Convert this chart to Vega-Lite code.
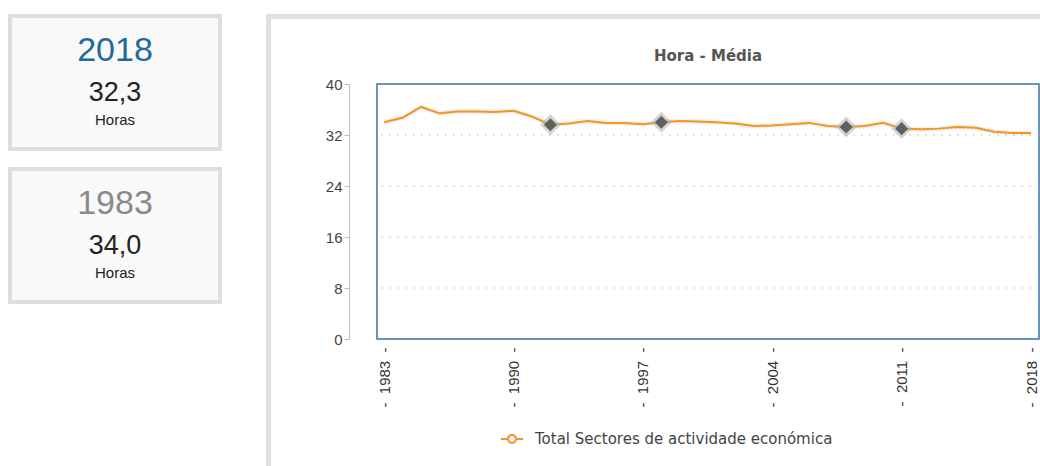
{
  "$schema": "https://vega.github.io/schema/vega-lite/v6.json",
  "background": "#ffffff",
  "padding": {"left": 8, "top": 14, "right": 0, "bottom": 0},
  "config": {
    "view": {"stroke": null},
    "concat": {"spacing": 0}
  },
  "datasets": {
    "serie": [
      {"ano": 1983, "horas": 34.0, "quebra": 0},
      {"ano": 1984, "horas": 34.7, "quebra": 0},
      {"ano": 1985, "horas": 36.4, "quebra": 0},
      {"ano": 1986, "horas": 35.4, "quebra": 0},
      {"ano": 1987, "horas": 35.7, "quebra": 0},
      {"ano": 1988, "horas": 35.7, "quebra": 0},
      {"ano": 1989, "horas": 35.6, "quebra": 0},
      {"ano": 1990, "horas": 35.8, "quebra": 0},
      {"ano": 1991, "horas": 34.9, "quebra": 0},
      {"ano": 1992, "horas": 33.6, "quebra": 1},
      {"ano": 1993, "horas": 33.8, "quebra": 0},
      {"ano": 1994, "horas": 34.2, "quebra": 0},
      {"ano": 1995, "horas": 33.9, "quebra": 0},
      {"ano": 1996, "horas": 33.9, "quebra": 0},
      {"ano": 1997, "horas": 33.7, "quebra": 0},
      {"ano": 1998, "horas": 34.0, "quebra": 1},
      {"ano": 1999, "horas": 34.2, "quebra": 0},
      {"ano": 2000, "horas": 34.1, "quebra": 0},
      {"ano": 2001, "horas": 34.0, "quebra": 0},
      {"ano": 2002, "horas": 33.8, "quebra": 0},
      {"ano": 2003, "horas": 33.4, "quebra": 0},
      {"ano": 2004, "horas": 33.5, "quebra": 0},
      {"ano": 2005, "horas": 33.7, "quebra": 0},
      {"ano": 2006, "horas": 33.9, "quebra": 0},
      {"ano": 2007, "horas": 33.4, "quebra": 0},
      {"ano": 2008, "horas": 33.25, "quebra": 1},
      {"ano": 2009, "horas": 33.4, "quebra": 0},
      {"ano": 2010, "horas": 33.9, "quebra": 0},
      {"ano": 2011, "horas": 33.0, "quebra": 1},
      {"ano": 2012, "horas": 32.9, "quebra": 0},
      {"ano": 2013, "horas": 33.0, "quebra": 0},
      {"ano": 2014, "horas": 33.25, "quebra": 0},
      {"ano": 2015, "horas": 33.15, "quebra": 0},
      {"ano": 2016, "horas": 32.5, "quebra": 0},
      {"ano": 2017, "horas": 32.3, "quebra": 0},
      {"ano": 2018, "horas": 32.3, "quebra": 0}
    ],
    "grelha": [{"v": 8}, {"v": 16}, {"v": 24}, {"v": 32}]
  },
  "bounds": "flush",
  "spacing": 258,
  "hconcat": [
    {
      "bounds": "flush",
      "spacing": 20,
      "vconcat": [
        {
          "width": 210,
          "height": 133,
          "view": {"stroke": "#dedede", "strokeWidth": 4, "fill": "#f9f9f9"},
          "data": {"values": [{"ano": "2018", "valor": "32,3", "unidade": "Horas"}]},
          "layer": [
            {"mark": {"type": "text", "font": "Liberation Sans", "fontSize": 34, "color": "#23689b", "baseline": "middle", "dy": -32}, "encoding": {"text": {"field": "ano"}}},
            {"mark": {"type": "text", "font": "Liberation Sans", "fontSize": 27, "color": "#222222", "baseline": "middle", "dy": 10}, "encoding": {"text": {"field": "valor"}}},
            {"mark": {"type": "text", "font": "Liberation Sans", "fontSize": 15, "color": "#222222", "baseline": "middle", "dy": 37}, "encoding": {"text": {"field": "unidade"}}}
          ]
        },
        {
          "width": 210,
          "height": 133,
          "view": {"stroke": "#dedede", "strokeWidth": 4, "fill": "#f9f9f9"},
          "data": {"values": [{"ano": "1983", "valor": "34,0", "unidade": "Horas"}]},
          "layer": [
            {"mark": {"type": "text", "font": "Liberation Sans", "fontSize": 34, "color": "#8a8a8a", "baseline": "middle", "dy": -32}, "encoding": {"text": {"field": "ano"}}},
            {"mark": {"type": "text", "font": "Liberation Sans", "fontSize": 27, "color": "#222222", "baseline": "middle", "dy": 10}, "encoding": {"text": {"field": "valor"}}},
            {"mark": {"type": "text", "font": "Liberation Sans", "fontSize": 15, "color": "#222222", "baseline": "middle", "dy": 37}, "encoding": {"text": {"field": "unidade"}}}
          ]
        }
      ]
    },
    {
      "bounds": "flush",
      "spacing": 0,
      "vconcat": [
        {
          "width": 800,
          "height": 1,
          "view": {"stroke": "#e0e0e0", "strokeWidth": 4},
          "data": {"values": []},
          "mark": "point",
          "encoding": {}
        },
        {
          "bounds": "flush",
          "spacing": 108,
          "hconcat": [
            {
              "width": 1,
              "height": 460,
              "view": {"stroke": "#e0e0e0", "strokeWidth": 4},
              "data": {"values": []},
              "mark": "point",
              "encoding": {}
            },
            {
              "bounds": "flush",
              "spacing": 47,
              "vconcat": [
                {
                  "width": 1,
                  "height": 0,
                  "data": {"values": []},
                  "mark": "point",
                  "encoding": {}
                },
                {
                  "width": 662,
                  "height": 255,
                  "view": {"stroke": "#3a72a8", "strokeWidth": 1.5},
                  "title": {"text": "Hora - Média", "font": "DejaVu Sans", "fontSize": 15, "fontWeight": "bold", "color": "#555555", "anchor": "middle", "offset": 13},
                  "layer": [
                    {
                      "data": {"name": "grelha"},
                      "mark": {"type": "rule", "stroke": "#c8c8c8", "strokeWidth": 1, "strokeDash": [2, 6]},
                      "encoding": {
                        "y": {"field": "v", "type": "quantitative", "title": null}
                      }
                    },
                    {
                      "data": {"name": "serie"},
                      "mark": {"type": "line", "stroke": "#000000", "strokeWidth": 5, "opacity": 0.06},
                      "encoding": {
                        "x": {"field": "ano", "type": "quantitative", "title": null},
                        "y": {"field": "horas", "type": "quantitative", "title": null}
                      }
                    },
                    {
                      "data": {"name": "serie"},
                      "mark": {"type": "line", "strokeWidth": 2},
                      "encoding": {
                        "x": {
                          "field": "ano", "type": "quantitative", "title": null,
                          "scale": {"domain": [1982.62, 2018.43], "nice": false, "zero": false},
                          "axis": {
                            "values": [1983, 1990, 1997, 2004, 2011, 2018],
                            "format": "d",
                            "labelExpr": "'-\u00a0\u00a0' + datum.label + '\u00a0\u00a0-'",
                            "labelAngle": -90,
                            "labelAlign": "right",
                            "labelBaseline": "middle",
                            "labelPadding": 8,
                            "labelFont": "Liberation Sans",
                            "labelFontSize": 15,
                            "labelColor": "#333333",
                            "ticks": false,
                            "domain": false,
                            "grid": false,
                            "title": null
                          }
                        },
                        "y": {
                          "field": "horas", "type": "quantitative", "title": null,
                          "scale": {"domain": [0, 40], "nice": false},
                          "axis": {
                            "values": [0, 8, 16, 24, 32, 40],
                            "offset": 28,
                            "domainColor": "#c0c0c0",
                            "tickColor": "#c0c0c0",
                            "tickSize": 5,
                            "labelPadding": 2,
                            "labelFont": "Liberation Sans",
                            "labelFontSize": 15,
                            "labelColor": "#444444",
                            "grid": false,
                            "title": null
                          }
                        },
                        "color": {
                          "datum": "Total Sectores de actividade económica",
                          "type": "nominal",
                          "scale": {"range": ["#f7941d"]},
                          "legend": {
                            "title": null,
                            "orient": "none",
                            "legendX": 490,
                            "legendY": 411,
                            "labelLimit": 0,
                            "symbolType": "M-1,0L-0.36,0M0.36,0L1,0M-0.36,0A0.36,0.36,0,1,1,0.36,0A0.36,0.36,0,1,1,-0.36,0Z",
                            "symbolSize": 484,
                            "symbolStrokeWidth": 2,
                            "symbolFillColor": "#ffffff",
                            "labelFont": "DejaVu Sans",
                            "labelFontSize": 15,
                            "labelColor": "#444444",
                            "labelOffset": 11
                          }
                        }
                      }
                    },
                    {
                      "data": {"name": "serie"},
                      "transform": [{"filter": "datum.quebra == 1"}],
                      "mark": {"type": "point", "shape": "diamond", "filled": true, "color": "#b0b0b0", "opacity": 0.55, "size": 440},
                      "encoding": {
                        "x": {"field": "ano", "type": "quantitative", "title": null},
                        "y": {"field": "horas", "type": "quantitative", "title": null}
                      }
                    },
                    {
                      "data": {"name": "serie"},
                      "transform": [{"filter": "datum.quebra == 1"}],
                      "mark": {"type": "point", "shape": "diamond", "filled": true, "color": "#5f5f5f", "opacity": 1, "size": 170},
                      "encoding": {
                        "x": {"field": "ano", "type": "quantitative", "title": null},
                        "y": {"field": "horas", "type": "quantitative", "title": null}
                      }
                    }
                  ]
                }
              ]
            }
          ]
        }
      ]
    }
  ]
}
